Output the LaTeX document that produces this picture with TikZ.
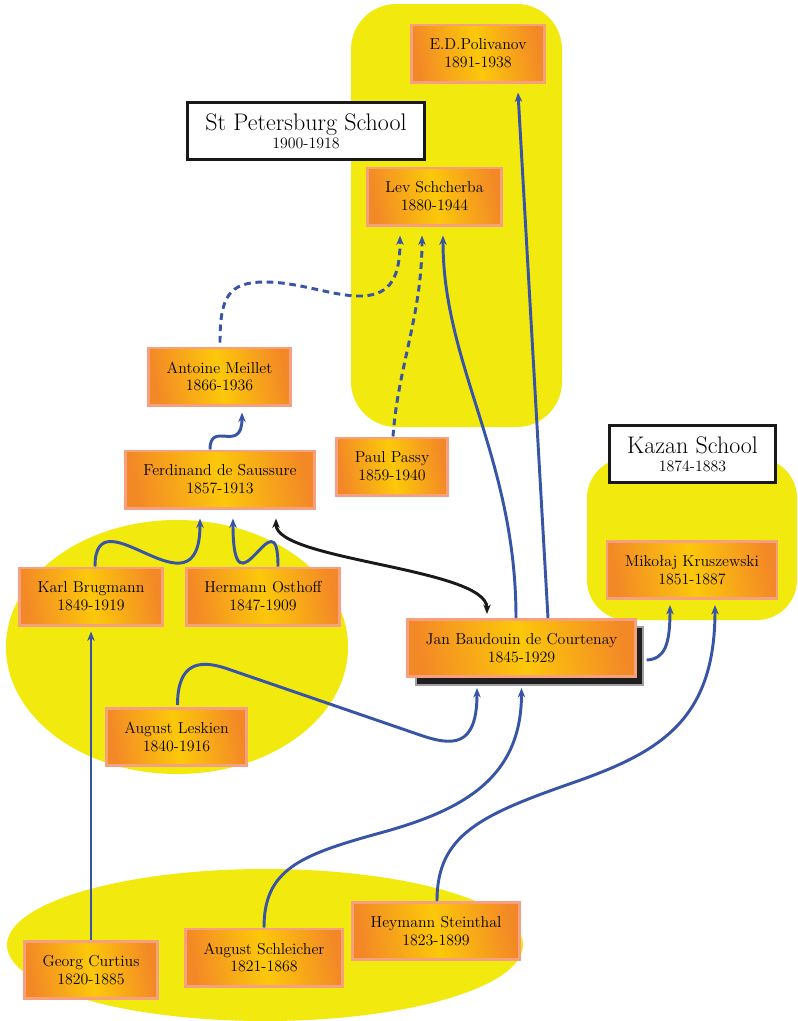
\documentclass[tikz,border=0pt]{standalone}
\usetikzlibrary{arrows.meta,calc,shadows}

\definecolor{regionyellow}{RGB}{242,233,14}
\definecolor{boxorange}{RGB}{243,137,38}
\definecolor{boxyellow}{RGB}{252,200,10}
\definecolor{boxedge}{RGB}{246,160,128}
\definecolor{linkblue}{RGB}{56,84,166}

\tikzset{
  person/.style={rectangle, draw=boxedge, line width=2pt,
    left color=boxorange, right color=boxorange, middle color=boxyellow,
    shading angle=100,
    align=center, inner xsep=13.5pt, minimum height=43pt,
    font=\fontsize{11.9}{13.4}\selectfont},
  school/.style={rectangle, draw=black!90, fill=white, line width=2.2pt,
    align=center, inner xsep=13.5pt, minimum height=43pt,
    font=\fontsize{11.9}{13.4}\selectfont},
  region/.style={fill=regionyellow},
  tip/.tip={Stealth[length=7pt,width=5.5pt,inset=2pt]},
  link/.style={draw=linkblue, line width=2.2pt, -tip},
  dashedlink/.style={link, dash pattern=on 5pt off 3.5pt},
  mutual/.style={draw=black!90, line width=2.2pt, tip-tip},
}
\newcommand{\schooltitle}[1]{{\fontsize{18}{20}\selectfont #1}}

\begin{document}
\begin{tikzpicture}[x=0.75pt,y=-0.75pt]
\useasboundingbox (0,0) rectangle (798,1021);

% school regions
\fill[region, rounded corners=34pt] (351,4) rectangle (562,427);
\fill[region, rounded corners=30pt] (587,458) rectangle (797,620);
\fill[region] (177,647) ellipse [x radius=171, y radius=127];
\fill[region] (265,945) ellipse [x radius=258, y radius=76];

% people and schools
\node[person] (poli) at (478,53.5) {E.D.Polivanov\\1891-1938};
\node[school] (stp) at (306,131) {\schooltitle{St Petersburg School}\\1900-1918};
\node[person] (lev) at (434.5,196.5) {Lev Schcherba\\1880-1944};
\node[person] (meil) at (219.5,376.5) {Antoine Meillet\\1866-1936};
\node[person] (saus) at (220,479.5) {Ferdinand de Saussure\\1857-1913};
\node[person] (passy) at (392,466.5) {Paul Passy\\1859-1940};
\node[school] (kazan) at (692.5,454) {\schooltitle{Kazan School}\\1874-1883};
\node[person] (krusz) at (692,570) {Mikołaj Kruszewski\\1851-1887};
\node[person] (brug) at (91,596.5) {Karl Brugmann\\1849-1919};
\node[person] (osth) at (263,596.5) {Hermann Osthoff\\1847-1909};
\node[person, general shadow={shadow xshift=6pt, shadow yshift=-6pt,
      fill=black!88, draw=gray!75, line width=1.5pt}]
  (jan) at (521.5,648) {Jan Baudouin de Courtenay\\1845-1929};
\node[person] (lesk) at (176.5,737) {August Leskien\\1840-1916};
\node[person] (stein) at (436,931) {Heymann Steinthal\\1823-1899};
\node[person] (schl) at (264,957.5) {August Schleicher\\1821-1868};
\node[person] (curt) at (91,970) {Georg Curtius\\1820-1885};

% influences into Lev Schcherba
\draw[dashedlink] ($(meil.north)+(0.5,-4)$) .. controls +(0,-45) and (228,282) .. (265,282)
  .. controls (300,282) and (335,297) .. (362,296)
  .. controls (392,295) and (400,275) .. ($(lev.south)+(-34.5,9)$);
\draw[dashedlink] ($(passy.north)+(1,0)$) .. controls +(5,-70) and +(0,80) .. ($(lev.south)+(-12.5,9)$);
\draw[link] ($(jan.north)+(-5.5,0)$) .. controls +(0,-160) and +(0,130) .. ($(lev.south)+(8.5,9)$);
\draw[link] ($(jan.north)+(26.5,0)$) -- ($(poli.south)+(40,9)$);

% Saussure and his teachers
\draw[link] ($(saus.north)+(-10,0)$) .. controls +(0,-30) and +(0,42) .. ($(meil.south)+(22.5,6)$);
\draw[link] ($(brug.north)+(4,0)$) .. controls +(0,-77) and +(0,106) .. ($(saus.south)+(-20,9)$);
\draw[link] ($(osth.north)+(15,0)$) .. controls +(0,-77) and +(0,106) .. ($(saus.south)+(13,9)$);
\draw[mutual] ($(saus.south)+(56,9)$) .. controls +(0,42) and +(0,-46) .. ($(jan.north)+(-34.5,-4)$);

% influences into Baudouin de Courtenay
\draw[link] ($(lesk.north)+(1,-2)$) .. controls +(0,-43) and (200,660) .. (225,668)
  -- (420,735) .. controls (452,746) and (477,748) .. ($(jan.south)+(-44.5,10)$);
\draw[link] (schl.north) .. controls +(0,-58) and (300,855) .. (380,833)
  .. controls (460,811) and (521.5,780) .. ($(jan.south)+(0,10)$);

% Kazan
\draw[link] ($(stein.north)+(1,0)$) .. controls +(0,-66) and (480,815) .. (575,782)
  .. controls (660,752) and (715,720) .. ($(krusz.south)+(23,5)$);
\draw[link] ($(jan.east)+(10,12)$) .. controls +(18,-1) and +(0,40) .. ($(krusz.south)+(-22,5)$);

% Curtius to Brugmann
\draw[link] (curt.north) -- ($(brug.south)+(0,5)$);
\end{tikzpicture}
\end{document}
